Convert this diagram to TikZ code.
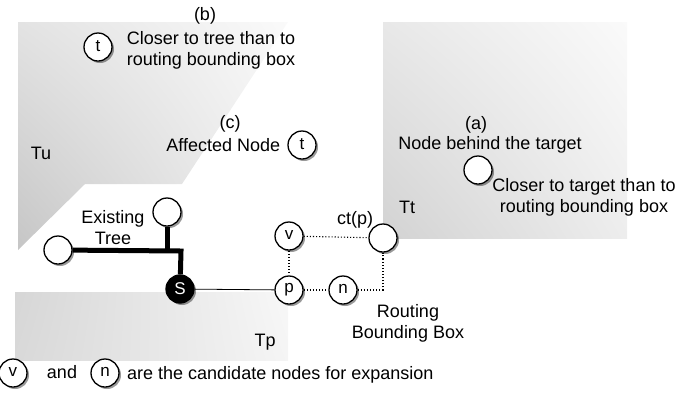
\documentclass[tikz,border=0pt]{standalone}
\usepackage{fontspec}
\setmainfont{Liberation Sans}
\usetikzlibrary{shadows, shadings, positioning}
\tikzstyle{vertex} = [circle, draw=black, line width=1.3pt, fill=white, minimum size=28pt, inner sep=0pt, font=\fontsize{17}{17}\selectfont, drop shadow={shadow xshift=2pt, shadow yshift=-2pt, opacity=0.4, fill=black}]
\tikzstyle{txt} = [font=\fontsize{18}{21}\selectfont, align=center, inner sep=0pt]
\tikzstyle{tree} = [line width=5pt, line join=miter]
\tikzstyle{dotline} = [dotted, line width=1.1pt]

\begin{document}
\begin{tikzpicture}[x=1pt, y=-1pt]
\useasboundingbox (0,0) rectangle (676,392);

% regions
\shade[lower left=gray!45, upper left=gray!22, upper right=gray!4, lower right=gray!12] (18,22) -- (288,22) -- (182,184) -- (85,184) -- (18,250) -- cycle;
\shade[lower left=gray!30, upper left=gray!32, upper right=gray!6, lower right=gray!8] (15,292) rectangle (288,360);
\shade[lower left=gray!35, upper left=gray!18, upper right=gray!4, lower right=gray!14] (383,22) rectangle (627,238);

\node (Tu) [txt] at (41,153) {Tu};
\node (Tp) [txt] at (265,342) {Tp};
\node (Tt) [txt] at (407,207) {Tt};

% nodes
\node (tb) [vertex] at (98,47) {\raisebox{3pt}{t}};
\node (tc) [vertex] at (302,145) {\raisebox{3pt}{t}};
\node (ta) [vertex] at (478,170) {};
\node (ctp) [vertex] at (383,238) {};
\node (v) [vertex] at (289,236) {\raisebox{2pt}{v}};
\node (p) [vertex] at (289,290) {p};
\node (n) [vertex] at (343,290) {\raisebox{2pt}{n}};
\node (S) [vertex, fill=black, text=white] at (180,289) {S};
\node (top) [vertex] at (167,212) {};
\node (left) [vertex] at (58,250) {};

% connectors
\coordinate (tj) at (167,251);
\coordinate (tk) at (181,251);
\coordinate (bb) at (383,290);
\draw [tree] (left) -- (tk) -- (S);
\draw [tree] (top) -- (tj);
\draw [thick] (S) -- (p);
\draw [dotline] (v) -- (ctp);
\draw [dotline] (v) -- (p);
\draw [dotline] (p) -- (n);
\draw [dotline] (n) -- (bb) -- (ctp);

% labels
\node (lb) [txt] at (205,16) {(b)};
\node (closetree) [txt] at (211,50) {Closer to tree than to\\routing bounding box};
\node (lc) [txt] at (230,124) {(c)};
\node (affected) [txt, left=7pt of tc] {Affected Node};
\node (la) [txt] at (476,125) {(a)};
\node (behind) [txt] at (490,145) {Node behind the target};
\node (closetarget) [txt] at (584,197) {Closer to target than to\\routing bounding box};
\node (ctplab) [txt] at (355,220) {ct(p)};
\node (rbb) [txt] at (408,323) {Routing\\Bounding Box};
\node (existing) [txt] at (113,228) {Existing\\Tree};

% legend
\node (lv) [vertex] at (13,373) {\raisebox{2pt}{v}};
\node (land) [txt] at (62,372) {and};
\node (ln) [vertex] at (105,373) {\raisebox{2pt}{n}};
\node (cand) [txt, anchor=west] at (127,375) {are the candidate nodes for expansion};
\end{tikzpicture}
\end{document}
